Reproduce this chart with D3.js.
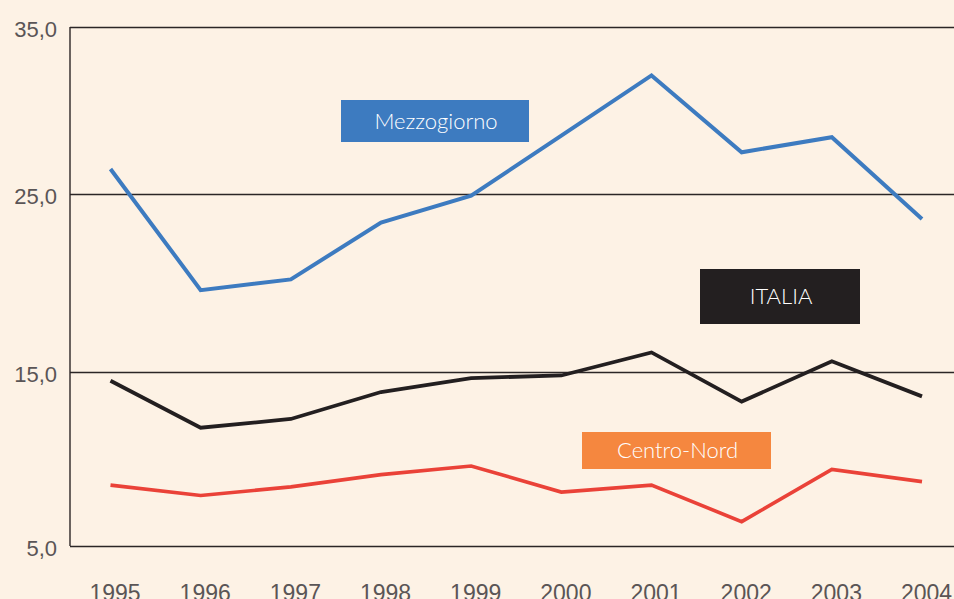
<!DOCTYPE html>
<html>
<head>
<meta charset="utf-8">
<script src="https://cdn.jsdelivr.net/npm/d3@7"></script>
<style>
  html, body { margin: 0; padding: 0; background: #fdf2e5; }
  svg { display: block; font-family: Lato, "Open Sans", sans-serif; }
</style>
</head>
<body>
<div id="chart"></div>
<script>
const years = [1995, 1996, 1997, 1998, 1999, 2000, 2001, 2002, 2003, 2004];
const mezzogiorno = [26.5, 19.6, 20.2, 23.4, 24.9, 28.5, 32.1, 27.5, 28.4, 23.6];
const italia = [14.5, 11.8, 12.3, 13.85, 14.65, 14.8, 16.1, 13.3, 15.6, 13.6];
const centroNord = [8.5, 7.9, 8.4, 9.1, 9.6, 8.1, 8.5, 6.4, 9.4, 8.7];
const yTicks = [5, 15, 25, 35];
const seriesNames = ["Mezzogiorno", "ITALIA", "Centro-Nord"];

const width = 954;
const height = 599;
const margin = { left: 70, right: 0, top: 27, bottom: 53 };

const svg = d3.select("#chart")
  .append("svg")
  .attr("width", width)
  .attr("height", height);

svg.append("rect")
  .attr("width", width)
  .attr("height", height)
  .attr("fill", "#fdf2e5");

// x: one slot per year
const x = d3.scaleLinear()
  .domain([1995, 2004])
  .range([110.5, 922]);

// y: the printed scale is not perfectly even, so pin each tick
const y = d3.scaleLinear()
  .domain(yTicks)
  .range([546, 372, 194, 27]);

const fmt = (v) => v.toFixed(1).replace(".", ",");

// gridlines (also top and bottom frame)
svg.append("g")
  .attr("class", "grid")
  .attr("transform", `translate(${margin.left}, 0)`)
  .call(d3.axisLeft(y).tickValues(yTicks).tickSize(-(width - margin.left)).tickFormat(""))
  .call((g) => g.select(".domain").remove())
  .call((g) => g.selectAll("line").attr("stroke", "#2b2626").attr("stroke-width", 1.4));

// y axis
svg.append("g")
  .attr("transform", `translate(${margin.left}, 0)`)
  .call(d3.axisLeft(y).tickValues(yTicks).tickSize(0).tickPadding(13).tickFormat(fmt))
  .call((g) => g.select(".domain")
    .attr("d", `M0,${y(35)}V${y(5)}`)
    .attr("stroke", "#2b2626")
    .attr("stroke-width", 1.4))
  .call((g) => g.selectAll("text")
    .attr("dy", "0.45em")
    .attr("fill", "#5a5556")
    .style("font-size", "22px")
    .style("font-weight", 300));

// x axis
svg.append("g")
  .attr("transform", `translate(4, ${y(5)})`)
  .call(d3.axisBottom(x).tickValues(years).tickSize(0).tickPadding(39).tickFormat(d3.format("d")))
  .call((g) => g.select(".domain").remove())
  .call((g) => g.selectAll("text")
    .attr("fill", "#5a5556")
    .style("font-size", "23px")
    .style("font-weight", 300));

const line = d3.line()
  .x((d, i) => x(years[i]))
  .y((d) => y(d));

const series = [
  { values: mezzogiorno, color: "#3d7bc0", width: 4 },
  { values: italia, color: "#231f20", width: 3.8 },
  { values: centroNord, color: "#ea4238", width: 3.6 },
];

svg.selectAll("path.serie")
  .data(series)
  .enter()
  .append("path")
  .attr("class", "serie")
  .attr("d", (d) => line(d.values))
  .attr("fill", "none")
  .attr("stroke", (d) => d.color)
  .attr("stroke-width", (d) => d.width)
  .attr("stroke-linejoin", "miter");

// label boxes
const labels = [
  { name: seriesNames[0], x0: 341, x1: 529, y0: 100, y1: 142, fill: "#3d7bc0" },
  { name: seriesNames[1], x0: 700, x1: 860, y0: 269, y1: 324, fill: "#231f20" },
  { name: seriesNames[2], x0: 582, x1: 771, y0: 432, y1: 469, fill: "#f5873f" },
];

const lab = svg.selectAll("g.label")
  .data(labels)
  .enter()
  .append("g")
  .attr("class", "label");

lab.append("rect")
  .attr("x", (d) => d.x0)
  .attr("y", (d) => d.y0)
  .attr("width", (d) => d.x1 - d.x0)
  .attr("height", (d) => d.y1 - d.y0)
  .attr("fill", (d) => d.fill);

lab.append("text")
  .attr("x", (d) => (d.x0 + d.x1) / 2 + 1)
  .attr("y", (d) => (d.y0 + d.y1) / 2)
  .attr("dy", "0.35em")
  .attr("text-anchor", "middle")
  .attr("fill", "#ffffff")
  .style("font-size", "22px")
  .style("font-weight", 300)
  .text((d) => d.name);
</script>
</body>
</html>
